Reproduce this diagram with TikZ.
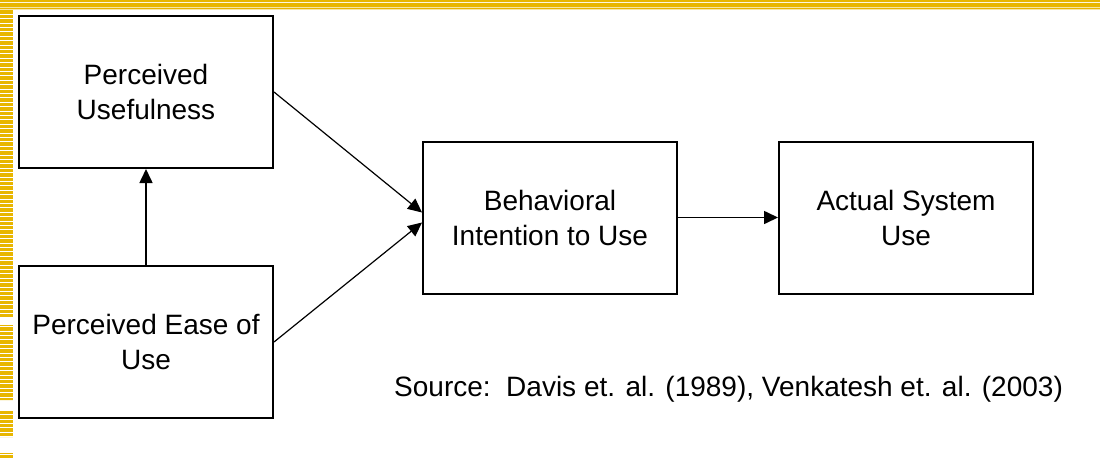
\documentclass[tikz,border=0pt]{standalone}
\usepackage{fontspec}
\setmainfont{Liberation Sans}
\usetikzlibrary{arrows.meta}
\definecolor{slideyellow}{RGB}{232,182,0}

\begin{document}
\begin{tikzpicture}[x=1pt,y=-1pt,>={Triangle[length=14pt,width=13pt]},main node/.style={draw,line width=2pt,minimum width=254pt,minimum height=152pt,inner sep=0pt,align=center,font=\fontsize{28}{35}\selectfont}]
                \useasboundingbox (0,0) rectangle (1100,458);
                % slide border
                \fill[slideyellow] (0,0) rectangle (1100,1.9) (0,2.9) rectangle (1100,6.9) (0,7.7) rectangle (1100,9.4);
                \begin{scope}
                    \clip (0,9.3) rectangle (13,317) (0,325) rectangle (13,400) (0,410) rectangle (13,437) (0,453) rectangle (13,458);
                    \foreach \y in {10.3,14.7,...,458}
                        \fill[slideyellow] (0,\y) rectangle (12.8,\y+3.4);
                \end{scope}

                \node[main node] (peou) at (146,342) {Perceived Ease of\\Use};
                \node[main node] (pu) [above of=peou, node distance=250pt] {Perceived\\Usefulness};
                \node[main node] (bi) at (550,217.5) {Behavioral\\Intention to Use};
                \node[main node] (asu) [right of=bi, node distance=356pt] {Actual System\\Use};
                \node (src) [anchor=base west, inner sep=0pt, font=\fontsize{28}{35}\selectfont] at (394,396) {Source:\ \ Davis et. al. (1989), Venkatesh et. al. (2003)};

                \coordinate (bi top in) at ([yshift=5pt]bi.west);
                \coordinate (bi low in) at ([yshift=-5pt]bi.west);

                \path[->,line width=1.2pt]
                    (pu.east) edge (bi top in)
                    (peou.east) edge (bi low in)
                ;
                \path[->,line width=1.6pt]
                    (peou) edge (pu)
                    (bi) edge (asu)
                ;
            \end{tikzpicture}
\end{document}
